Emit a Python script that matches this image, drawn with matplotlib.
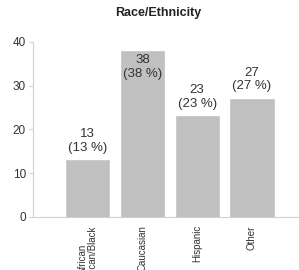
import matplotlib.pyplot as plt

plt.rcParams['font.family'] = ['Liberation Sans', 'DejaVu Sans']

categories = ["African\nAmerican/Black", "Caucasian", "Hispanic", "Other"]
counts = [13, 38, 23, 27]
percents = [13, 38, 23, 27]

fig = plt.figure(figsize=(2.99, 2.70), dpi=100)
ax = fig.add_axes([0.110, 0.197, 0.890, 0.648])

x = range(len(categories))
bars = ax.bar(x, counts, width=0.79, color="#c0c0c0", edgecolor="#c8c8c8", linewidth=0.6)

ymax = 40
for xi, c, p in zip(x, counts, percents):
    label = f"{c}\n({p} %)"
    if c > ymax - 8:
        ax.annotate(label, (xi, c), xytext=(0, -2.5), textcoords="offset points",
                    ha="center", va="top", fontsize=9.5, color="#333333")
    else:
        ax.annotate(label, (xi, c), xytext=(0, 4.5), textcoords="offset points",
                    ha="center", va="bottom", fontsize=9.5, color="#333333")

ax.set_ylim(0, ymax)
ax.set_xlim(-1.0, 3.86)
ax.set_yticks([0, 10, 20, 30, 40])
ax.set_xticks(list(x))
ax.set_xticklabels(categories, rotation=90, fontsize=7, linespacing=1.0, va="top", ha="center")

for side in ["top", "right"]:
    ax.spines[side].set_visible(False)
for side in ["left", "bottom"]:
    ax.spines[side].set_color("#d0d0d0")
    ax.spines[side].set_linewidth(0.8)

ax.tick_params(axis="y", length=3, width=0.8, color="#d0d0d0", labelsize=8.5, labelcolor="#333333", pad=2)
ax.tick_params(axis="x", length=0, pad=6, labelcolor="#333333")

fig.text(0.528, 0.952, "Race/Ethnicity", ha="center", va="center", fontsize=9, fontweight="bold", color="#222222")

fig.savefig("out.png", dpi=100)
